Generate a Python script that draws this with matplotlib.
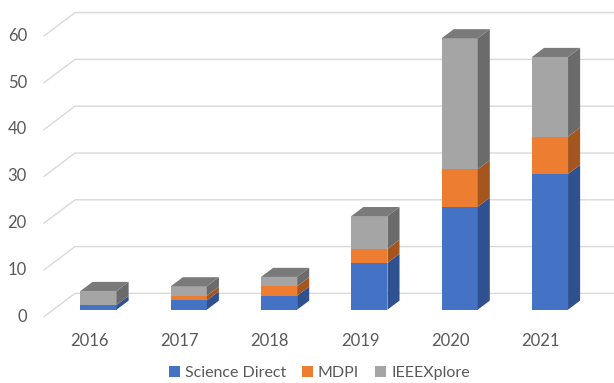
import numpy as np
import matplotlib
matplotlib.use("Agg")
import matplotlib.pyplot as plt
from matplotlib.patches import Polygon, Patch

plt.rcParams['font.family'] = ['Lato', 'DejaVu Sans']

years = ['2016', '2017', '2018', '2019', '2020', '2021']
science_direct = [1, 2, 3, 10, 22, 29]
mdpi = [0, 1, 2, 3, 8, 8]
ieee = [3, 2, 2, 7, 28, 17]

series = [science_direct, mdpi, ieee]
names = ['Science Direct', 'MDPI', 'IEEEXplore']
front_cols = ['#4472C4', '#ED7D31', '#A5A5A5']
side_cols = ['#2F5190', '#A5561F', '#6B6B6B']
top_col = '#7A7A7A'
yticks = [0, 10, 20, 30, 40, 50, 60]

# oblique "3d" depth: full floor depth in data units
ddx, ddy = 0.343, 4.98
z0, z1 = 0.30, 0.69      # bar front / back position in depth
width = 0.40

fig = plt.figure(figsize=(6.14, 3.83), dpi=100)
ax = fig.add_axes([0, 0, 1, 1])
ax.set_xlim(-0.988, 5.812)
ax.set_ylim(-14.17, 67.67)
ax.axis('off')

x = np.arange(len(years))
xl, xr = -0.5, len(years) - 0.5

# back wall gridlines and floor diagonals
for t in yticks:
    ax.plot([xl, xl + ddx, xr + ddx], [t, t + ddy, t + ddy],
            color='#d9d9d9', lw=1, zorder=1)
    ax.text(xl - 0.19, t, str(t), ha='right', va='center',
            fontsize=12, color='#595959')

for i, yr in enumerate(years):
    ax.text(i, -5.2, yr, ha='center', va='center', fontsize=12, color='#595959')

# bars
bottoms = np.zeros(len(years))
for k, vals in enumerate(series):
    vals = np.array(vals, dtype=float)
    xc = x + z0 * ddx
    ax.bar(xc, vals, width, bottom=bottoms + z0 * ddy, color=front_cols[k],
           zorder=3)
    for i in range(len(years)):
        if vals[i] == 0:
            continue
        b, t = bottoms[i], bottoms[i] + vals[i]
        xr_f = xc[i] + width / 2
        side = [(xr_f, b + z0 * ddy),
                (xr_f + (z1 - z0) * ddx, b + z1 * ddy),
                (xr_f + (z1 - z0) * ddx, t + z1 * ddy),
                (xr_f, t + z0 * ddy)]
        ax.add_patch(Polygon(side, closed=True, facecolor=side_cols[k],
                             edgecolor='none', zorder=3))
    bottoms = bottoms + vals

# top faces
for i in range(len(years)):
    xc = x[i] + z0 * ddx
    t = bottoms[i]
    top = [(xc - width / 2, t + z0 * ddy),
           (xc + width / 2, t + z0 * ddy),
           (xc + width / 2 + (z1 - z0) * ddx, t + z1 * ddy),
           (xc - width / 2 + (z1 - z0) * ddx, t + z1 * ddy)]
    ax.add_patch(Polygon(top, closed=True, facecolor=top_col,
                         edgecolor='none', zorder=4))

handles = [Patch(facecolor=c) for c in front_cols]
fig.legend(handles, names, loc='lower center', ncol=3, frameon=False,
           bbox_to_anchor=(0.52, -0.03), handlelength=0.7, handleheight=0.7,
           handletextpad=0.3, columnspacing=1.0, fontsize=11.5,
           labelcolor='#595959')

fig.savefig('out.png', dpi=100)
